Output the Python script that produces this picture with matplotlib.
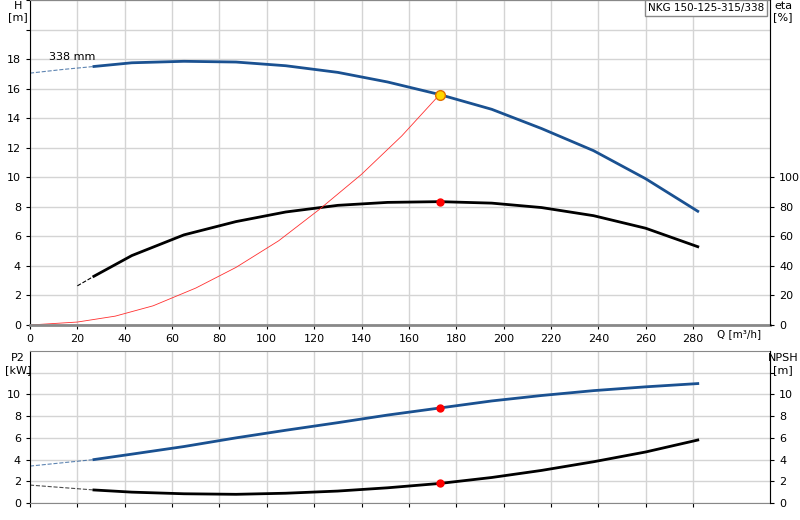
import numpy as np
import matplotlib.pyplot as plt

# pump curve data
q_h = [27, 43, 65, 87, 108, 130, 151, 173, 195, 216, 238, 260, 282]
h = [17.5, 17.75, 17.85, 17.8, 17.55, 17.1, 16.45, 15.6, 14.6, 13.3, 11.8, 9.9, 7.7]
q_h_ext = [0, 14, 27]
h_ext = [17.05, 17.3, 17.5]

q_eta = [27, 43, 65, 87, 108, 130, 151, 173, 195, 216, 238, 260, 282]
eta = [33, 47, 61, 70, 76.5, 81, 83, 83.5, 82.5, 79.5, 74, 65.5, 53]
q_eta_ext = [20, 27]
eta_ext = [26.5, 33]

q_sys = [0, 20, 36, 52, 70, 87, 105, 122, 140, 157, 173]
h_sys = [0, 0.2, 0.6, 1.3, 2.5, 3.9, 5.7, 7.8, 10.2, 12.8, 15.6]

q_p2 = [27, 43, 65, 87, 108, 130, 151, 173, 195, 216, 238, 260, 282]
p2 = [4.0, 4.5, 5.2, 6.0, 6.7, 7.4, 8.1, 8.75, 9.4, 9.9, 10.35, 10.7, 11.0]
q_p2_ext = [0, 27]
p2_ext = [3.4, 4.0]

q_npsh = [27, 43, 65, 87, 108, 130, 151, 173, 195, 216, 238, 260, 282]
npsh = [1.2, 1.0, 0.85, 0.8, 0.9, 1.1, 1.4, 1.8, 2.35, 3.0, 3.8, 4.7, 5.8]
q_npsh_ext = [0, 27]
npsh_ext = [1.65, 1.2]

q_duty = 173
blue = '#1a5191'
grid_c = '#d4d4d4'

fig = plt.figure(figsize=(8, 5.2), dpi=100)
ax1 = fig.add_axes([30/800, 1 - 325/520, 740/800, 325/520])
ax2 = fig.add_axes([30/800, 1 - 503/520, 740/800, 152/520])

for ax in (ax1, ax2):
    ax.set_xlim(0, 312.5)
    ax.set_xticks(range(0, 300, 20))
    ax.grid(True, color=grid_c, linewidth=1)
    ax.set_axisbelow(True)
    for s in ax.spines.values():
        s.set_color('#888888')
    ax.spines['left'].set_color('black')
    ax.tick_params(labelsize=8, length=3)

# top chart
ax1.set_ylim(0, 22)
ax1.set_yticks(range(0, 23, 2))
ax1.set_yticklabels([str(v) if v <= 18 else '' for v in range(0, 23, 2)])
ax1.set_xticklabels([str(v) for v in range(0, 300, 20)])
ax1.spines['bottom'].set_color('#888888')
ax1.spines['bottom'].set_linewidth(2)
ax1.plot(q_h_ext, h_ext, '--', color=blue, lw=0.8, alpha=0.7)
ax1.plot(q_h, h, color=blue, lw=2)
ax1.plot(q_eta_ext, [e/10 for e in eta_ext], '--', color='black', lw=0.8)
ax1.plot(q_eta, [e/10 for e in eta], color='black', lw=2)
ax1.plot(q_sys, h_sys, color='#ff3030', lw=0.6)
ax1.plot(q_duty, 15.6, 'o', color='#ffd700', mec='#e07000', ms=7, zorder=5)
ax1.plot(q_duty, 8.35, 'o', color='red', ms=5, zorder=5)
ax1.text(8, 17.95, '338 mm', fontsize=8)
ax1.text(-5, 21.95, 'H\n[m]', fontsize=8, ha='center', va='top')
ax1.text(318, 21.95, 'eta\n[%]', fontsize=8, ha='center', va='top')
ax1.text(290, -0.3, 'Q [m³/h]', fontsize=7.5, va='top')
ax1.text(310, 21.8, 'NKG 150-125-315/338', fontsize=7.5, ha='right', va='top',
         bbox=dict(facecolor='white', edgecolor='#888888', pad=2))
ax1r = ax1.twinx()
ax1r.set_ylim(0, 220)
ax1r.set_yticks(range(0, 101, 20))
ax1r.tick_params(labelsize=8, length=3)
for s in ax1r.spines.values():
    s.set_visible(False)
ax1r.spines['right'].set_visible(True)
ax1r.spines['right'].set_color('black')

# bottom chart
ax2.set_ylim(0, 14)
ax2.set_yticks(range(0, 13, 2))
ax2.set_yticklabels([str(v) if v <= 10 else '' for v in range(0, 13, 2)])
ax2.tick_params(labelbottom=False)
ax2.plot(q_p2_ext, p2_ext, '--', color=blue, lw=0.8, alpha=0.7)
ax2.plot(q_p2, p2, color=blue, lw=2)
ax2.plot(q_npsh_ext, npsh_ext, '--', color='black', lw=0.8, alpha=0.7)
ax2.plot(q_npsh, npsh, color='black', lw=2)
ax2.plot(q_duty, 8.75, 'o', color='red', ms=5, zorder=5)
ax2.plot(q_duty, 1.8, 'o', color='red', ms=5, zorder=5)
ax2.text(-5, 13.8, 'P2\n[kW]', fontsize=8, ha='center', va='top')
ax2.text(318, 13.8, 'NPSH\n[m]', fontsize=8, ha='center', va='top')
ax2r = ax2.twinx()
ax2r.set_ylim(0, 14)
ax2r.set_yticks(range(0, 13, 2))
ax2r.set_yticklabels([str(v) if v <= 10 else '' for v in range(0, 13, 2)])
ax2r.tick_params(labelsize=8, length=3)
for s in ax2r.spines.values():
    s.set_visible(False)
ax2r.spines['right'].set_visible(True)
ax2r.spines['right'].set_color('black')

fig.savefig('out.png', dpi=100)
